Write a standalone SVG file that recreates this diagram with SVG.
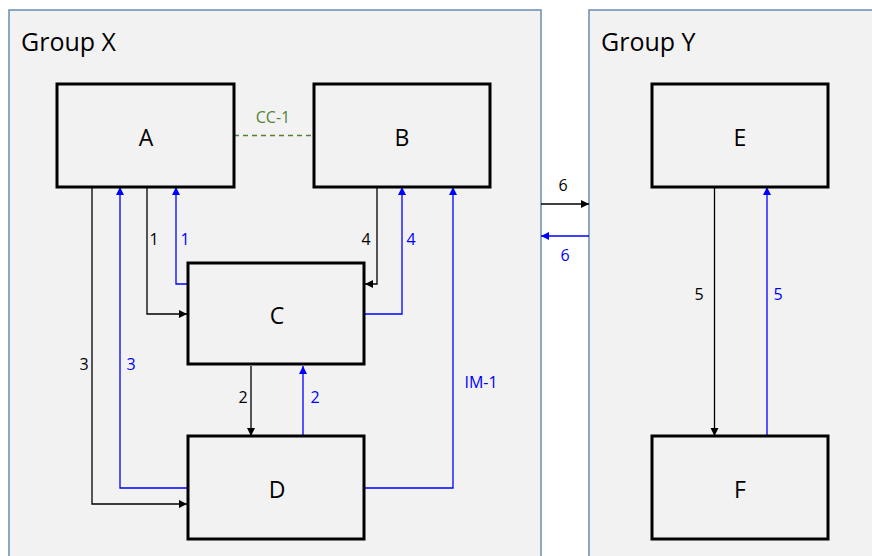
<svg xmlns="http://www.w3.org/2000/svg" width="872" height="556" viewBox="0 0 872 556">
<defs>
<marker id="ab" markerWidth="10" markerHeight="10" refX="9" refY="5" orient="auto" markerUnits="userSpaceOnUse"><path d="M1,1 L9,5 L1,9 Z" fill="#000"/></marker>
<marker id="au" markerWidth="10" markerHeight="10" refX="9" refY="5" orient="auto" markerUnits="userSpaceOnUse"><path d="M1,1 L9,5 L1,9 Z" fill="#0000ff"/></marker>
<style>
.grp{fill:#f2f2f2;stroke:#6a8db3;stroke-width:1.5}
.gt{font-family:"Open Sans","Noto Sans",sans-serif;font-size:25px;fill:#000}
.node rect{fill:#f2f2f2;stroke:#000;stroke-width:3}
.node text{font-family:"Open Sans","Noto Sans",sans-serif;font-size:23px;fill:#000;text-anchor:middle;dominant-baseline:central}
.k{fill:none;stroke:#000;stroke-width:1.3;marker-end:url(#ab)}
.b{fill:none;stroke:#0000ff;stroke-width:1.3;marker-end:url(#au)}
.lk{font-family:"Open Sans","Noto Sans",sans-serif;font-size:16px;fill:#000;text-anchor:middle;dominant-baseline:central}
.lb{font-family:"Open Sans","Noto Sans",sans-serif;font-size:16px;fill:#0000ff;text-anchor:middle;dominant-baseline:central}
</style>
</defs>
<rect width="872" height="556" fill="#fff"/>
<g id="groupX"><rect class="grp" x="9" y="10" width="532" height="560"/><text class="gt" x="21" y="51">Group X</text></g>
<g id="groupY"><rect class="grp" x="589" y="10" width="300" height="560"/><text class="gt" x="601" y="51">Group Y</text></g>
<g id="connectors">
<line x1="234" y1="135.5" x2="314" y2="135.5" stroke="#548235" stroke-width="1.3" stroke-dasharray="5,4"/>
<text x="273" y="117" font-family="'Open Sans','Noto Sans',sans-serif" font-size="16" fill="#548235" text-anchor="middle" dominant-baseline="central">CC-1</text>
<polyline class="k" points="147,187 147,314 187,314"/>
<polyline class="b" points="187,284 176,284 176,187"/>
<text class="lk" x="154" y="239">1</text><text class="lb" x="185" y="239">1</text>
<polyline class="k" points="377,187 377,284 365,284"/>
<polyline class="b" points="365,314 402,314 402,187"/>
<text class="lk" x="366" y="239">4</text><text class="lb" x="411" y="239">4</text>
<polyline class="k" points="92,187 92,504 187,504"/>
<polyline class="b" points="187,488 120,488 120,187"/>
<text class="lk" x="84" y="364">3</text><text class="lb" x="131" y="364">3</text>
<polyline class="b" points="365,488 453,488 453,187"/>
<text class="lb" x="481" y="382">IM-1</text>
<line class="k" x1="251" y1="366" x2="251" y2="436"/>
<line class="b" x1="303" y1="436" x2="303" y2="366"/>
<text class="lk" x="243" y="397">2</text><text class="lb" x="315" y="397">2</text>
<line class="k" x1="541" y1="204" x2="589" y2="204"/>
<line class="b" x1="589" y1="236" x2="541" y2="236"/>
<text class="lk" x="563" y="185">6</text><text class="lb" x="565" y="255">6</text>
<line class="k" x1="714.5" y1="187" x2="714.5" y2="436"/>
<line class="b" x1="767" y1="436" x2="767" y2="187"/>
<text class="lk" x="699" y="294">5</text><text class="lb" x="778" y="294">5</text>
</g>
<g id="A" class="node"><rect x="57" y="84" width="177" height="103"/><text x="146" y="137">A</text></g>
<g id="B" class="node"><rect x="314" y="84" width="176" height="103"/><text x="402" y="137">B</text></g>
<g id="C" class="node"><rect x="188" y="263" width="176" height="101"/><text x="277" y="315">C</text></g>
<g id="D" class="node"><rect x="188" y="436" width="176" height="103"/><text x="277" y="489">D</text></g>
<g id="E" class="node"><rect x="652" y="84" width="176" height="103"/><text x="740" y="137">E</text></g>
<g id="F" class="node"><rect x="652" y="436" width="176" height="103"/><text x="740" y="489">F</text></g>
</svg>
